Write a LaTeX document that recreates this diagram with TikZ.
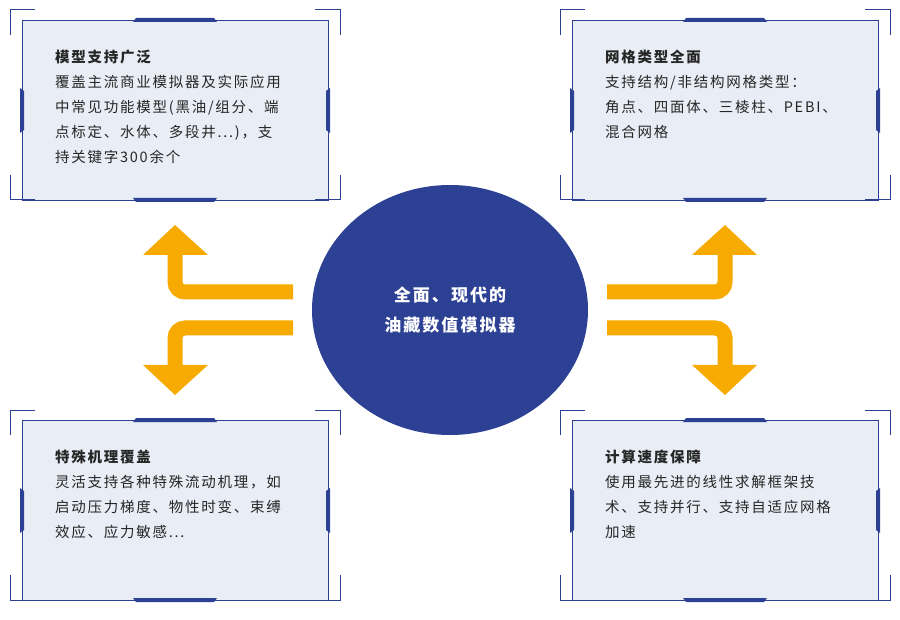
\documentclass[tikz,border=0pt]{standalone}
\usepackage{fontspec}
\newfontfamily\cjk[LetterSpace=12]{Noto Sans CJK SC}
\usetikzlibrary{positioning}
\definecolor{navy}{RGB}{44,64,148}
\definecolor{panel}{RGB}{233,237,245}
\definecolor{amber}{RGB}{247,171,0}
\tikzset{
  panelbox/.style={draw=navy, line width=0.8pt, fill=panel},
  bracket/.style={draw=navy, line width=1pt},
  tab/.style={fill=navy},
  card/.style={anchor=north west, inner sep=0pt, align=left, text width=250pt,
    font=\cjk\fontsize{14.5}{25}\selectfont, text=black!85},
  band/.style={draw=amber, line width=15pt, rounded corners=10pt},
  tip/.style={fill=amber}
}
% one framed card: #1 = left x, #2 = top y
\newcommand\cardframe[2]{
  \begin{scope}[shift={(#1,#2)}]
    \fill[panelbox] (12,10) rectangle (318,190);
    \draw[bracket] (0,25) -- (0,0) -- (25,0) (305,0) -- (330,0) -- (330,25)
      (0,165) -- (0,190) -- (25,190) (305,190) -- (330,190) -- (330,165);
    \fill[tab] (123,12) -- (126,8) -- (204,8) -- (207,12) -- cycle;
    \fill[tab] (123,188) -- (126,192) -- (204,192) -- (207,188) -- cycle;
    \fill[tab] (10,78) -- (14,81) -- (14,120) -- (10,123) -- cycle;
    \fill[tab] (320,78) -- (316,81) -- (316,120) -- (320,123) -- cycle;
  \end{scope}
}
\begin{document}
\begin{tikzpicture}[x=1pt,y=-1pt]
  \useasboundingbox (0,0) rectangle (900,620);
  \cardframe{10}{10}
  \cardframe{560}{10}
  \cardframe{10}{410}
  \cardframe{560}{410}

  \node (tl) [card] at (55,50) {\textbf{模型支持广泛}\\覆盖主流商业模拟器及实际应用\\中常见功能模型(黑油/组分、端\\点标定、水体、多段井...)，支\\持关键字300余个};
  \node (tr) [card] at (605,50) {\textbf{网格类型全面}\\支持结构/非结构网格类型：\\角点、四面体、三棱柱、PEBI、\\混合网格};
  \node (bl) [card] at (55,450) {\textbf{特殊机理覆盖}\\灵活支持各种特殊流动机理，如\\启动压力梯度、物性时变、束缚\\效应、应力敏感...};
  \node (br) [card] at (605,450) {\textbf{计算速度保障}\\使用最先进的线性求解框架技\\术、支持并行、支持自适应网格\\加速};

  \fill[navy] (450,310) ellipse [x radius=138, y radius=125];
  \node (core) at (450,310) [align=center, text=white,
    font=\cjk\fontsize{17}{30}\selectfont\bfseries] {全面、现代的\\油藏数值模拟器};

  \draw[band] (293,292) -- (175,292) -- (175,254);
  \fill[tip] (143,255) -- (175,225) -- (208,255) -- cycle;
  \draw[band] (293,328) -- (175,328) -- (175,366);
  \fill[tip] (143,365) -- (175,395) -- (208,365) -- cycle;
  \draw[band] (607,292) -- (725,292) -- (725,254);
  \fill[tip] (692,255) -- (725,225) -- (757,255) -- cycle;
  \draw[band] (607,328) -- (725,328) -- (725,366);
  \fill[tip] (692,365) -- (725,395) -- (757,365) -- cycle;
\end{tikzpicture}
\end{document}
